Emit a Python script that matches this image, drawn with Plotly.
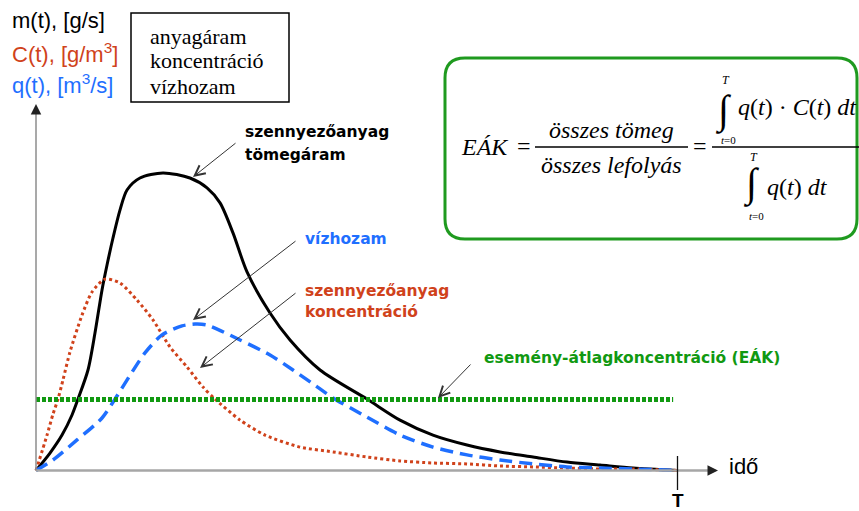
import plotly.graph_objects as go

# --- data (time 0..T, T = 100; values in arbitrary units) ---
t_m = [0, 2.18, 4.06, 5.62, 6.55, 8.11, 9.20, 10.30, 11.08, 12.01, 13.10, 14.20, 16.22, 19.81,
       24.02, 26.68, 28.71, 30.73, 32.92, 36.51, 39.63, 44.31, 51.64, 56.79, 61.93,
       67.24, 72.39, 77.54, 82.84, 87.99, 93.14, 100]
m_vals = [0, 5.8, 11.8, 18.5, 23.8, 33.5, 45.8, 60.2, 68.5, 77.5, 86.8, 93.5, 97.5, 99.2,
          97.5, 94.2, 89.2, 79.2, 66.2, 52.5, 43.5, 33.5, 23.8, 16.8, 11.8,
          8.5, 6.2, 4.5, 2.8, 1.8, 0.8, 0]

t_c = [0, 1.72, 2.65, 3.43, 4.21, 5.30, 7.18, 8.74, 10.76, 13.10, 15.76, 18.25,
       20.90, 23.56, 26.05, 27.93, 31.83, 35.73, 41.19, 46.33, 51.64, 56.79, 61.93,
       67.24, 72.39, 77.54, 82.84, 87.99, 93.14, 100]
c_vals = [0, 11.8, 18.8, 23.8, 30.2, 39.5, 51.8, 59.5, 63.8, 62.5, 56.8, 50.2,
          41.2, 34.5, 27.8, 23.8, 16.8, 11.8, 7.8, 6.2, 4.5, 3.2, 2.5,
          2.2, 1.5, 1.2, 0.8, 0.5, 0.5, 0]

t_q = [0, 2.65, 6.40, 10.30, 12.32, 14.51, 17.00, 19.66, 22.78, 24.80, 26.68, 31.83,
       36.51, 40.09, 44.31, 46.33, 51.64, 56.79, 61.93, 67.24, 72.39, 77.54, 82.84,
       87.99, 93.14, 100]
q_vals = [0, 3.5, 10.2, 17.5, 23.8, 31.2, 39.2, 45.2, 48.2, 48.8, 48.5, 43.5,
          38.5, 33.5, 27.2, 24.2, 17.8, 11.8, 7.8, 5.2, 3.5, 2.2, 1.2,
          0.8, 0.5, 0]

t_eak = [0, 99.4]
eak_level = 23.7

W, H = 859, 511
X0, XS = 36, 6.41      # pixel of t=0, pixels per time unit
Y0, YS = 470.5, 3.0    # pixel of value 0, pixels per value unit


def pp(x, y):
    """pixel position -> paper coords"""
    return x / W, 1 - y / H


fig = go.Figure()

fig.add_trace(go.Scatter(x=t_m, y=m_vals, mode="lines",
                         line=dict(color="#000000", width=3, shape="spline", smoothing=0.8),
                         hoverinfo="skip"))
fig.add_trace(go.Scatter(x=t_c, y=c_vals, mode="lines",
                         line=dict(color="#d0421b", width=3, dash="dot", shape="spline", smoothing=0.7),
                         hoverinfo="skip"))
fig.add_trace(go.Scatter(x=t_q, y=q_vals, mode="lines",
                         line=dict(color="#1f6fff", width=3.5, dash="13px,7px", shape="spline",
                                   smoothing=0.7),
                         hoverinfo="skip"))
fig.add_trace(go.Scatter(x=t_eak, y=[eak_level] * len(t_eak), mode="lines",
                         line=dict(color="#119911", width=5, dash="4px,2px"), hoverinfo="skip"))

shapes = []
annotations = []

# axes
x_a, y_a = pp(X0, Y0)
x_b, _ = pp(712, Y0)
shapes.append(dict(type="line", xref="paper", yref="paper", x0=x_a, y0=y_a, x1=x_b, y1=y_a,
                   line=dict(color="#a6a6a6", width=2.5)))
_, y_top = pp(X0, 110)
shapes.append(dict(type="line", xref="paper", yref="paper", x0=x_a, y0=y_a, x1=x_a, y1=y_top,
                   line=dict(color="#8c8c8c", width=1.5)))
# axis arrow heads
ax_tip = pp(718, Y0)
annotations.append(dict(xref="paper", yref="paper", x=ax_tip[0], y=ax_tip[1], ax=-9, ay=0,
                        showarrow=True, arrowhead=2, arrowsize=1.4, arrowwidth=1.5,
                        arrowcolor="#222222", text=""))
ay_tip = pp(X0, 104)
annotations.append(dict(xref="paper", yref="paper", x=ay_tip[0], y=ay_tip[1], ax=0, ay=9,
                        showarrow=True, arrowhead=2, arrowsize=1.4, arrowwidth=1.5,
                        arrowcolor="#222222", text=""))
# T tick
tx0, ty0 = pp(677.5, 456)
_, ty1 = pp(677.5, 490)
shapes.append(dict(type="line", xref="paper", yref="paper", x0=tx0, y0=ty0, x1=tx0, y1=ty1,
                   line=dict(color="#111111", width=1.3)))


def label(x, y, text, size, color="#000000", family="Liberation Sans, Arial", anchor="left"):
    px_, py_ = pp(x, y)
    annotations.append(dict(xref="paper", yref="paper", x=px_, y=py_, text=text,
                            showarrow=False, xanchor=anchor, yanchor="middle",
                            font=dict(size=size, color=color, family=family)))


label(677.5, 500, "<b>T</b>", 19, anchor="center")
label(727, 466, "idő", 22)

# unit labels top left
label(10, 21, "m(t), [g/s]", 22)
label(10, 53, "C(t), [g/m<sup>3</sup>]", 22, color="#d0421b")
label(10, 84, "q(t), [m<sup>3</sup>/s]", 22, color="#1f6fff")

# legend-like box
bx0, by0 = pp(131, 13)
bx1, by1 = pp(289, 102)
shapes.append(dict(type="rect", xref="paper", yref="paper", x0=bx0, y0=by0, x1=bx1, y1=by1,
                   line=dict(color="#000000", width=1.5)))
serif = "Liberation Serif, Times New Roman, serif"
label(148, 36, "anyagáram", 22, family=serif)
label(148, 61, "koncentráció", 22, family=serif)
label(148, 86, "vízhozam", 22, family=serif)

# curve callouts
bold = "DejaVu Sans, Verdana, sans-serif"
label(243, 132, "<b>szennyezőanyag</b>", 15.5, family=bold)
label(243, 155, "<b>tömegáram</b>", 15.5, family=bold)
label(303, 239, "<b>vízhozam</b>", 15.5, color="#1f6fff", family=bold)
label(303, 291, "<b>szennyezőanyag</b>", 15.5, color="#d0421b", family=bold)
label(303, 312, "<b>koncentráció</b>", 15.5, color="#d0421b", family=bold)
label(482, 357, "<b>esemény-átlagkoncentráció (EÁK)</b>", 15.5, color="#119911", family=bold)

callouts = [((193, 177), (237, 142)),
            ((193, 320), (297, 240)),
            ((200, 368), (297, 292)),
            ((438, 398), (472, 363))]
for (tip, tail) in callouts:
    tx, ty = pp(*tip)
    annotations.append(dict(xref="paper", yref="paper", x=tx, y=ty,
                            ax=tail[0] - tip[0], ay=tail[1] - tip[1],
                            showarrow=True, arrowhead=5, arrowsize=2, arrowwidth=1,
                            arrowcolor="#333333", text=""))

# formula box (rounded)
L, T_, R, B, r = 445, 58, 857, 239, 20


def P(x, y):
    a, b = pp(x, y)
    return f"{a:.5f},{b:.5f}"


path = (f"M {P(L + r, T_)} L {P(R - r, T_)} Q {P(R, T_)} {P(R, T_ + r)} "
        f"L {P(R, B - r)} Q {P(R, B)} {P(R - r, B)} L {P(L + r, B)} "
        f"Q {P(L, B)} {P(L, B - r)} L {P(L, T_ + r)} Q {P(L, T_)} {P(L + r, T_)} Z")
shapes.append(dict(type="path", xref="paper", yref="paper", path=path,
                   line=dict(color="#1f9a1f", width=3)))

it = "Liberation Serif, Times New Roman, serif"
label(485, 147, "<i>EÁK</i>", 24, family=it, anchor="center")
label(524, 146, "=", 24, family=it, anchor="center")
label(611, 130, "<i>összes tömeg</i>", 24, family=it, anchor="center")
label(611, 165, "<i>összes lefolyás</i>", 24, family=it, anchor="center")
fx0, fy = pp(535, 147)
fx1, _ = pp(688, 147)
shapes.append(dict(type="line", xref="paper", yref="paper", x0=fx0, y0=fy, x1=fx1, y1=fy,
                   line=dict(color="#000000", width=1.3)))
label(700, 146, "=", 24, family=it, anchor="center")
gx0, _ = pp(712, 147)
shapes.append(dict(type="line", xref="paper", yref="paper", x0=gx0, y0=fy, x1=1.0, y1=fy,
                   line=dict(color="#000000", width=1.3)))
# numerator
label(723, 110, "∫", 40, family=it, anchor="center")
label(726, 80, "<i>T</i>", 12, family=it, anchor="center")
label(728, 140, "<i>t</i>=0", 11, family=it, anchor="center")
label(736, 107, "<i>q</i>(<i>t</i>) · <i>C</i>(<i>t</i>) <i>dt</i>", 24, family=it)
# denominator
label(751, 183, "∫", 40, family=it, anchor="center")
label(754, 157, "<i>T</i>", 12, family=it, anchor="center")
label(756, 216, "<i>t</i>=0", 11, family=it, anchor="center")
label(765, 187, "<i>q</i>(<i>t</i>) <i>dt</i>", 24, family=it)

fig.update_layout(
    width=W, height=H,
    margin=dict(l=0, r=0, t=0, b=0),
    paper_bgcolor="white", plot_bgcolor="white",
    showlegend=False,
    xaxis=dict(visible=False, range=[-X0 / XS, (W - X0) / XS], fixedrange=True),
    yaxis=dict(visible=False, range=[(Y0 - H) / YS, Y0 / YS], fixedrange=True),
    shapes=shapes,
    annotations=annotations,
)

# the page body has a default 8px margin; drop it so the figure fills the window
fig.write_html("out.html", config={"displayModeBar": False},
               post_script="document.body.style.margin='0';")
